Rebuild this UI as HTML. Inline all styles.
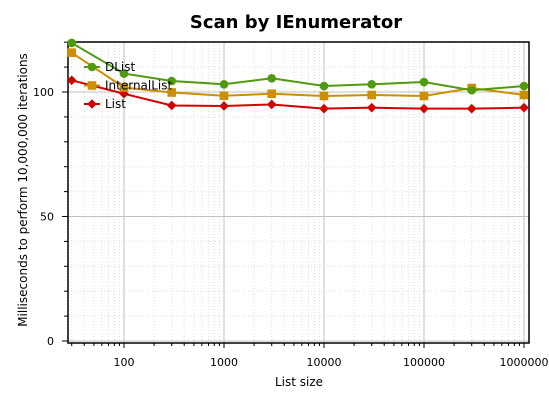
<!DOCTYPE html>
<html><head><meta charset="utf-8"><style>
body{margin:0;background:#fff;font-family:"DejaVu Sans","Liberation Sans",sans-serif}
</style></head><body>
<svg id="chart" width="549" height="403" xmlns="http://www.w3.org/2000/svg" font-family="DejaVu Sans, Liberation Sans, sans-serif">
<text x="296" y="28" text-anchor="middle" font-size="18" font-weight="bold">Scan by IEnumerator</text>
<g id="grid"></g>
<g id="axes"></g>
<g id="series"></g>
<g id="legend"></g>
<text transform="translate(27,190) rotate(-90)" text-anchor="middle" font-size="12">Milliseconds to perform 10,000,000 iterations</text>
<text x="299" y="386" text-anchor="middle" font-size="12">List size</text>
</svg>
<script>
const sizes=[30,100,300,1000,3000,10000,30000,100000,300000,1000000];
const dlist=[119.7,107.4,104.4,103.1,105.5,102.4,103.1,104,100.7,102.4];
const internalList=[115.8,101.8,99.8,98.5,99.3,98.4,98.8,98.4,101.6,98.8];
const list=[104.7,99.3,94.6,94.4,95,93.3,93.7,93.3,93.3,93.7];
const xTicks=[100,1000,10000,100000,1000000];
const yTicks=[0,50,100];
const NS="http://www.w3.org/2000/svg";
const L=68,R=529,T=42,B=343;
const x=v=>124+(Math.log10(v)-2)*100;
const y=v=>341-v*2.49;
function mk(tag,attrs,parent){const e=document.createElementNS(NS,tag);for(const k in attrs)e.setAttribute(k,attrs[k]);parent.appendChild(e);return e;}
const grid=document.getElementById('grid'),axes=document.getElementById('axes'),ser=document.getElementById('series'),leg=document.getElementById('legend');
for(let d=1;d<=6;d++){for(let m=1;m<10;m++){const v=m*Math.pow(10,d);const px=x(v);if(px<L||px>R)continue;
 const major=m===1;
 const g=mk('line',{x1:px,x2:px,y1:T,y2:B,stroke:major?'#c0c0c0':'#dedede','stroke-width':1,'stroke-dasharray':major?'':'1,2'},grid);
 
 mk('line',{x1:px,x2:px,y1:B,y2:B+(major?5:3),stroke:'#000'},axes);}}
for(let v=0;v<=120;v+=10){const py=y(v);const major=v%50===0;
 const g=mk('line',{x1:L,x2:R,y1:py,y2:py,stroke:major?'#c0c0c0':'#dedede','stroke-dasharray':major?'':'1,2'},grid);
 
 mk('line',{x1:L-(major?6:4),x2:L,y1:py,y2:py,stroke:'#000'},axes);}
const fr=mk('rect',{x:L,y:T,width:R-L,height:B-T,fill:'none',stroke:'#000','stroke-width':1.5},axes);

xTicks.forEach(v=>{const t=mk('text',{x:x(v),y:B+23,'text-anchor':'middle','font-size':11},axes);t.textContent=v;
 });
yTicks.forEach(v=>{const t=mk('text',{x:L-14,y:y(v)+4,'text-anchor':'end','font-size':11},axes);t.textContent=v;
 });
function marker(shape,cx,cy,color,parent){
 if(shape==='circle')return mk('circle',{cx:cx,cy:cy,r:4.3,fill:color},parent);
 if(shape==='square')return mk('rect',{x:cx-4.3,y:cy-4.3,width:8.6,height:8.6,fill:color},parent);
 return mk('polygon',{points:`${cx},${cy-4.8} ${cx+4.8},${cy} ${cx},${cy+4.8} ${cx-4.8},${cy}`,fill:color},parent);}
const S=[{n:'DList',d:dlist,c:'#4f9a0f',s:'circle'},{n:'InternalList',d:internalList,c:'#cc8f00',s:'square'},{n:'List',d:list,c:'#d40000',s:'diamond'}];
S.slice().reverse().forEach(se=>{
 const p=mk('polyline',{points:sizes.map((v,i)=>x(v)+','+y(se.d[i])).join(' '),fill:'none',stroke:se.c,'stroke-width':2},ser);
 
 sizes.forEach((v,i)=>{const m=marker(se.s,x(v),y(se.d[i]),se.c,ser);
  });
});
S.forEach((se,i)=>{const ly=67+i*18.5;
 const l=mk('line',{x1:84,x2:100,y1:ly,y2:ly,stroke:se.c,'stroke-width':2},leg);
 
 const m=marker(se.s,92,ly,se.c,leg);
 
 const t=mk('text',{x:105,y:ly+4,'font-size':12},leg);t.textContent=se.n;
 });
</script>
</body></html>
